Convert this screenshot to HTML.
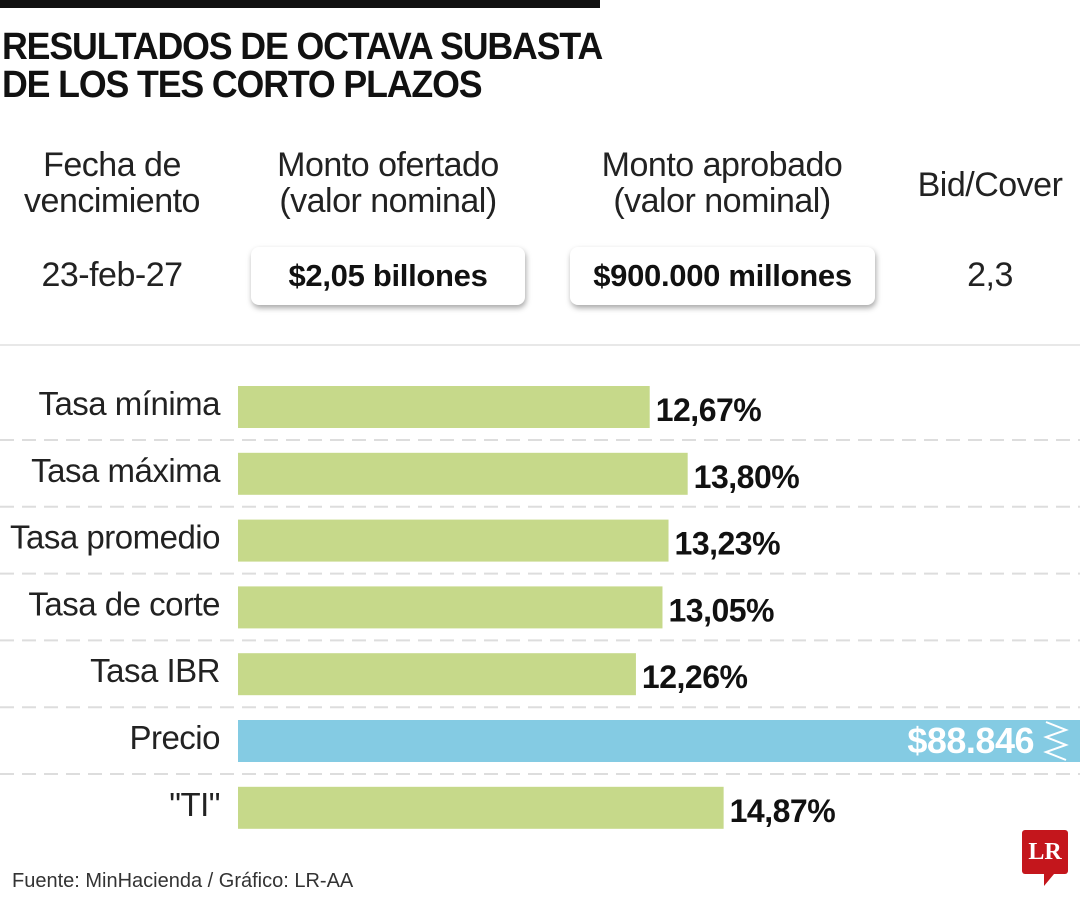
<!DOCTYPE html>
<html><head><meta charset="utf-8"><style>
body{margin:0;width:1080px;height:900px;background:#fff;position:relative;overflow:hidden;font-family:"Liberation Sans",sans-serif;color:#111}
.a{position:absolute}
.title{left:2px;font-weight:bold;font-size:38px;letter-spacing:-1.2px;transform:scaleX(.94);transform-origin:left;white-space:nowrap}
.hd{font-size:34px;text-align:center;line-height:36px;color:#222;letter-spacing:-.5px}
.box{background:#fff;border-radius:8px;box-shadow:1px 3px 6px rgba(0,0,0,.35);font-weight:bold;font-size:31px;text-align:center;line-height:58px;letter-spacing:-.3px}
</style></head><body>
<div class="a" style="left:0;top:0;width:600px;height:8px;background:#111"></div>
<div class="a title" style="top:26px">RESULTADOS DE OCTAVA SUBASTA</div>
<div class="a title" style="top:64px">DE LOS TES CORTO PLAZOS</div>
<div class="a hd" style="left:0;width:224px;top:147px">Fecha de<br>vencimiento</div>
<div class="a hd" style="left:238px;width:300px;top:147px">Monto ofertado<br>(valor nominal)</div>
<div class="a hd" style="left:572px;width:300px;top:147px">Monto aprobado<br>(valor nominal)</div>
<div class="a hd" style="left:900px;width:180px;top:167px">Bid/Cover</div>
<div class="a hd" style="left:0;width:224px;top:257px">23-feb-27</div>
<div class="a box" style="left:251px;top:247px;width:274px;height:58px">$2,05 billones</div>
<div class="a box" style="left:570px;top:247px;width:305px;height:58px">$900.000 millones</div>
<div class="a hd" style="left:900px;width:180px;top:257px">2,3</div>
<div class="a" style="left:0;top:344px;width:1080px;height:2px;background:#e8e8e8"></div>
<svg class="a" style="left:0;top:0" width="1080" height="900" id="chart"></svg>
<div class="a" style="left:12px;top:870px;font-size:20px;color:#333">Fuente: MinHacienda / Gráfico: LR-AA</div>
<div class="a" style="left:1022px;top:830px;width:46px;height:44px;background:#c4161c;border-radius:3px;color:#fff;font-family:'Liberation Serif',serif;font-weight:bold;font-size:24px;text-align:center;line-height:44px">LR</div>
<div class="a" style="left:1044px;top:874px;width:0;height:0;border-left:10px solid #c4161c;border-bottom:12px solid transparent"></div>
<script>
const categories=["Tasa mínima","Tasa máxima","Tasa promedio","Tasa de corte","Tasa IBR","Precio","\"TI\""];
const values=[12.67,13.80,13.23,13.05,12.26,88.846,14.87];
const labels=["12,67%","13,80%","13,23%","13,05%","12,26%","$88.846","14,87%"];
const NS="http://www.w3.org/2000/svg",svg=document.getElementById('chart');
const x0=238,xs=v=>Math.min(224+v*33.6,1080),y=i=>386+i*66.8,bh=42;
function mk(t,a){const e=document.createElementNS(NS,t);for(const k in a)e.setAttribute(k,a[k]);svg.appendChild(e);return e;}
categories.forEach((c,i)=>{
 const yy=y(i);
 if(i<categories.length-1){const l=mk('line',{x1:0,x2:1080,y1:yy+bh+12,y2:yy+bh+12,stroke:'#ddd','stroke-width':2,'stroke-dasharray':'14 8'});
 
 }
 const big=values[i]>30;
 const w=xs(values[i])-x0;
 const r=mk('rect',{x:x0,y:yy,width:w,height:bh,fill:big?'#84cbe3':'#c6d98a'});
 
 
 const t=mk('text',{x:220,y:yy+29,'text-anchor':'end','font-size':33,fill:'#222','letter-spacing':'-0.5'});t.textContent=c;
 
 
 const v=mk('text',{x:big?1034:x0+w+6,y:yy+(big?33:35),'text-anchor':big?'end':'start','font-size':big?36:32,'font-weight':'bold',fill:big?'#fff':'#111','letter-spacing':'-0.5'});v.textContent=labels[i];
 
 
 if(big){const z=mk('polyline',{points:`1046,${yy+2} 1066,${yy+10} 1046,${yy+17} 1066,${yy+25} 1046,${yy+32} 1066,${yy+40}`,fill:'none',stroke:'#fff','stroke-width':2});
 
 }
});
</script>
</body></html>
